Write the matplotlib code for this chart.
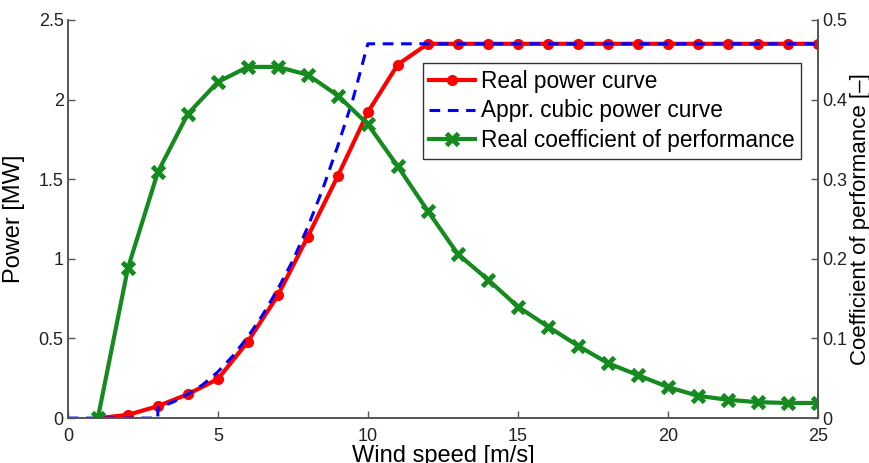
import matplotlib.pyplot as plt

plt.rcParams['font.family'] = ['Liberation Sans', 'DejaVu Sans']

# wind speeds [m/s]
V = list(range(1, 26))
# measured power curve [MW]
P_real = [0.0, 0.02, 0.075, 0.15, 0.245, 0.48, 0.77, 1.14, 1.52, 1.92, 2.22,
          2.35, 2.35, 2.35, 2.35, 2.35, 2.35, 2.35, 2.35, 2.35, 2.35, 2.35,
          2.35, 2.35, 2.35]
# approximated cubic curve [MW] (cut-in at 3 m/s, rated at 10 m/s)
V_cubic = [0, 1, 2, 3, 3, 3.5, 4, 4.5, 5, 5.5, 6, 6.5, 7, 7.5, 8, 8.5, 9, 9.5,
           10, 25]
P_cubic = [0, 0, 0, 0, 0.063, 0.10, 0.15, 0.21, 0.29, 0.39, 0.51, 0.65, 0.81,
           0.99, 1.20, 1.44, 1.71, 2.00, 2.35, 2.35]
# measured coefficient of performance [-]
Cp_real = [0.0, 0.188, 0.309, 0.382, 0.422, 0.441, 0.441, 0.431, 0.405, 0.369,
           0.316, 0.26, 0.206, 0.174, 0.140, 0.115, 0.091, 0.069, 0.054, 0.039,
           0.028, 0.023, 0.020, 0.019, 0.019]

AXIS_COLOR = '#555555'
FONT_SIZE = 17
TICK_SIZE = 13

fig = plt.figure(figsize=(8.7, 4.63), dpi=100)
ax = fig.add_axes([0.078, 0.097, 0.862, 0.860])
ax2 = ax.twinx()

l1, = ax.plot(V, P_real, color='red', lw=3, marker='o', ms=7,
              label='Real power curve')
l2, = ax.plot(V_cubic, P_cubic, color='blue', lw=2.2, ls=(0, (3.5, 2.5)),
              label='Appr. cubic power curve')
l3, = ax2.plot(V, Cp_real, color='#158a1e', lw=3, marker='x', ms=9, mew=3.5,
               label='Real coefficient of performance')

ax.set_xlim(0, 25)
ax.set_ylim(0, 2.5)
ax2.set_ylim(0, 0.5)
ax.set_xticks([0, 5, 10, 15, 20, 25])
ax.set_yticks([0, 0.5, 1, 1.5, 2, 2.5])
ax.set_yticklabels(['0', '0.5', '1', '1.5', '2', '2.5'])
ax2.set_yticks([0, 0.1, 0.2, 0.3, 0.4, 0.5])
ax2.set_yticklabels(['0', '0.1', '0.2', '0.3', '0.4', '0.5'])

for a in (ax, ax2):
    a.spines['top'].set_visible(False)
    for s in a.spines.values():
        s.set_color(AXIS_COLOR)
        s.set_linewidth(1.2)
    a.tick_params(direction='in', length=5, width=1, color=AXIS_COLOR,
                  labelsize=TICK_SIZE, labelcolor='#222222', pad=3)
ax.tick_params(axis='x', pad=7)

ax.set_xlabel('Wind speed [m/s]', fontsize=FONT_SIZE, labelpad=0)
ax.set_ylabel('Power [MW]', fontsize=FONT_SIZE, labelpad=10)
ax2.set_ylabel('Coefficient of performance [\u2013]', fontsize=16,
               labelpad=2)

leg = ax2.legend(handles=[l1, l2, l3], loc='upper right',
                 bbox_to_anchor=(0.978, 0.892), fontsize=16.3, frameon=True,
                 fancybox=False, edgecolor='black', handlelength=2.0,
                 handletextpad=0.27, labelspacing=0.3, borderpad=0.3,
                 borderaxespad=0)
leg.get_frame().set_linewidth(1.0)

plt.savefig('out.png', dpi=100)
